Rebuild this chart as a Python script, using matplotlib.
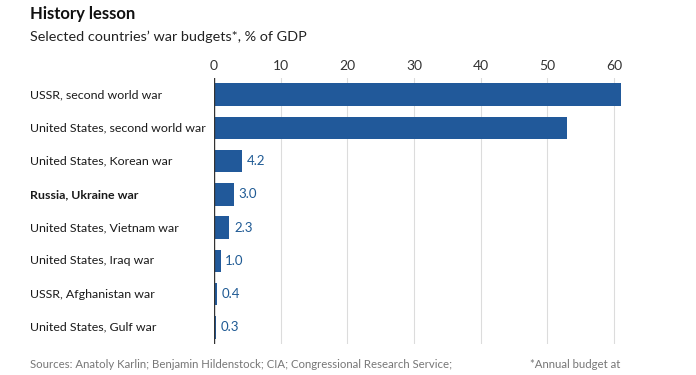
import matplotlib.pyplot as plt

plt.rcParams['font.family'] = ['Lato', 'DejaVu Sans']

wars = ['USSR, second world war', 'United States, second world war',
        'United States, Korean war', 'Russia, Ukraine war',
        'United States, Vietnam war', 'United States, Iraq war',
        'USSR, Afghanistan war', 'United States, Gulf war']
budget = [61.0, 53.0, 4.2, 3.0, 2.3, 1.0, 0.4, 0.3]
labelled = [False, False, True, True, True, True, True, True]
ticks = [0, 10, 20, 30, 40, 50, 60]

bar_col = '#21599a'
txt_col = '#1f5a94'

fig = plt.figure(figsize=(6.96, 3.75), dpi=100)
ax = fig.add_axes([214 / 696, 1 - 344 / 375, (650 - 214) / 696, (344 - 78) / 375])

ypos = list(range(len(wars)))
ax.barh(ypos, budget, height=0.68, color=bar_col, zorder=3)
ax.set_ylim(len(wars) - 0.5, -0.5)
ax.set_xlim(0, (650 - 214) / (400 / 60))

# value labels only for the small bars
for i, (v, show) in enumerate(zip(budget, labelled)):
    if show:
        ax.text(v + 0.7, i, f'{v:.1f}', va='center', ha='left',
                fontsize=9.5, color=txt_col)

for t in ticks:
    ax.axvline(t, color='#dcdcdc', lw=0.8, zorder=1)
ax.axvline(0, color='#333333', lw=1.0, zorder=4)

ax.set_xticks(ticks)
ax.xaxis.tick_top()
ax.tick_params(axis='x', length=0, labelsize=10, labelcolor='#333333', pad=4)
ax.set_yticks(ypos)
ax.set_yticklabels([])
ax.tick_params(axis='y', length=0)
for s in ax.spines.values():
    s.set_visible(False)

# row labels, left aligned at the figure margin
for i, w in enumerate(wars):
    yfig = ax.transData.transform((0, i))[1] / fig.bbox.height
    fig.text(30 / 696, yfig, w, va='center', ha='left', fontsize=8.9,
             color='#1a1a1a', fontweight='bold' if w == 'Russia, Ukraine war' else 'normal')

fig.text(30 / 696, 1 - 14 / 375, 'History lesson', fontsize=12, fontweight='bold',
         va='center', ha='left', color='#111111')
fig.text(30 / 696, 1 - 37 / 375, 'Selected countries\u2019 war budgets*, % of GDP',
         fontsize=10.4, va='center', ha='left', color='#222222')
fig.text(30 / 696, 1 - 365 / 375,
         'Sources: Anatoly Karlin; Benjamin Hildenstock; CIA; Congressional Research Service;',
         fontsize=8.2, va='center', ha='left', color='#777777')
fig.text(530 / 696, 1 - 365 / 375, '*Annual budget at', fontsize=8.2,
         va='center', ha='left', color='#777777')

fig.savefig('out.png', dpi=100, facecolor='white')
